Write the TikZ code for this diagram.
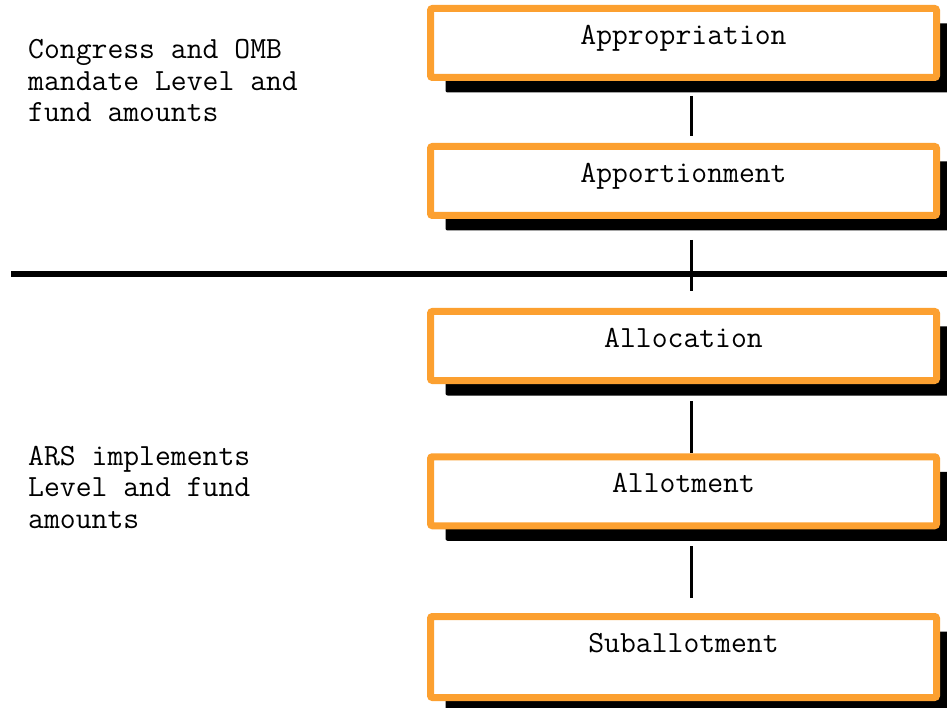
\documentclass[tikz,border=0pt]{standalone}
\usepackage{tikz}
\usetikzlibrary{shadows}
\definecolor{fundorange}{RGB}{252,160,48}

\tikzset{
  stage/.style={draw=fundorange, line width=7pt, fill=white, rounded corners=2pt,
    minimum width=506pt, inner sep=0pt, outer sep=0pt,
    text height=36pt, text depth=33pt,
    drop shadow={shadow xshift=15pt, shadow yshift=-15pt, fill=black, opacity=1},
    font=\ttfamily\fontsize{30.8}{31.3}\selectfont},
  link/.style={line width=3pt},
  note/.style={anchor=base west, align=left, inner sep=0pt,
    font=\ttfamily\fontsize{30.8}{31.3}\selectfont}
}

\begin{document}
\begin{tikzpicture}[x=1pt, y=-1pt]

% Page frame
\clip (0,0) rectangle (947,708);
\fill[white] (0,0) rectangle (947,708);

% Funding stages
\node[stage] (approp)   at (683.5,43)   {Appropriation};
\node[stage] (apport)   at (683.5,181)  {Apportionment};
\node[stage] (alloc)    at (683.5,346)  {Allocation};
\node[stage] (allot)    at (683.5,491.25) {Allotment};
\node[stage, text depth=45pt] (suballot) at (683.5,657) {Suballotment};

% Links between stages
\draw[link, shorten <=18.3pt, shorten >=10.7pt] ([xshift=7.5pt]approp.south) -- ([xshift=7.5pt]apport.north);
\draw[link, shorten <=24.5pt, shorten >=20.8pt] ([xshift=7.5pt]apport.south) -- ([xshift=7.5pt]alloc.north);
\draw[link, shorten <=20.5pt, shorten >=4pt]    ([xshift=7.5pt]alloc.south)  -- ([xshift=7.5pt]allot.north);
\draw[link, shorten <=20.5pt, shorten >=18.5pt] ([xshift=7.5pt]allot.south)  -- ([xshift=7.5pt]suballot.north);

% Divider between mandate and implementation
\draw[line width=6pt] (11,274) -- (947,274);

% Side notes (base = last line)
\node[note] (mandate) at (28,121.5)  {Congress and OMB\\mandate Level and\\fund amounts};
\node[note] (implement) at (28,528) {ARS implements\\Level and fund\\amounts};

\end{tikzpicture}
\end{document}
